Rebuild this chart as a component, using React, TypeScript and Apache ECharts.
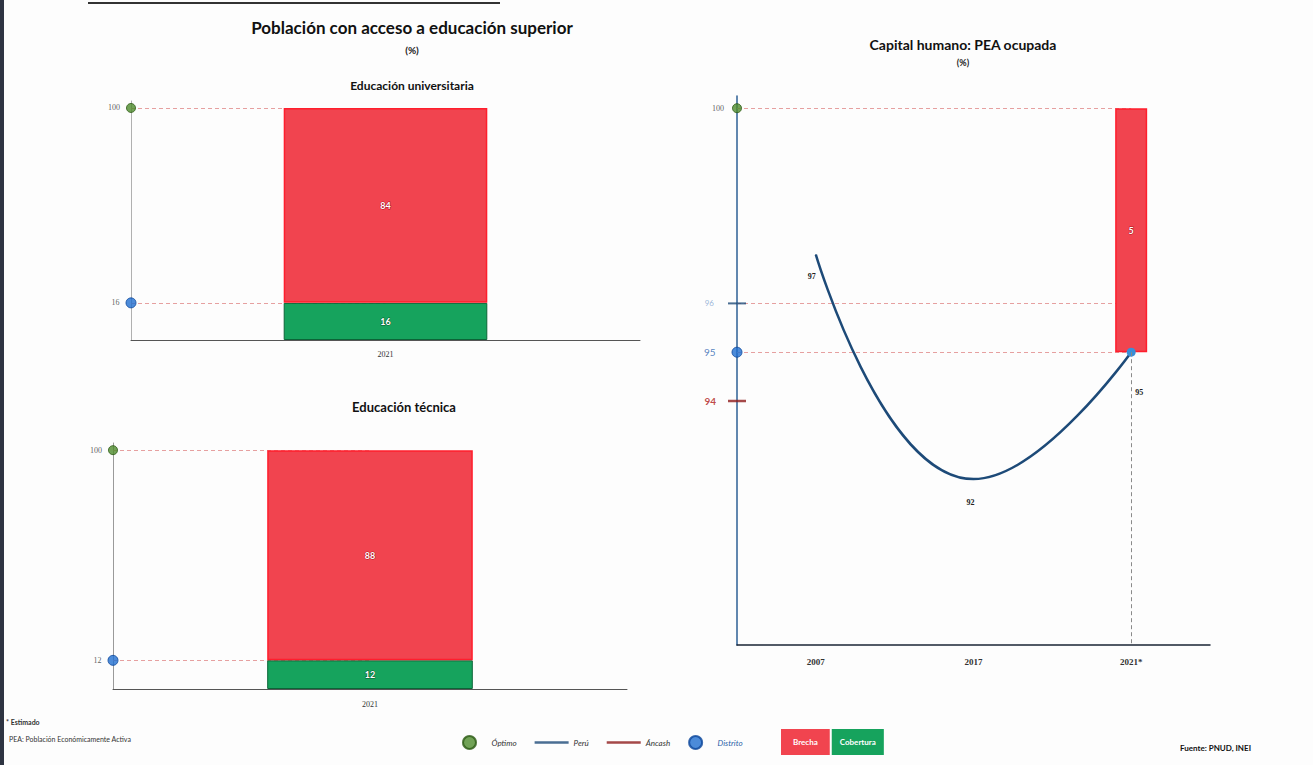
import React, { useEffect, useRef } from "react";
import * as echarts from "echarts";

// ---------- data ----------
const catUni = ["2021"];
const coberturaUni = [16];
const brechaUni = [84];

const catTec = ["2021"];
const coberturaTec = [12];
const brechaTec = [88];

const optimo = 100;
const distritoUni = 16;
const distritoTec = 12;

const catPea = ["2007", "2017", "2021*"];
const distritoPea = [97, 92.4, 95];
const brechaPea = [null, null, 5];
const peruPea = 96;
const ancashPea = 94;

// ---------- styles ----------
const RED = "#f1444f";
const RED_BORDER = "#ff1e2d";
const GREEN = "#16a35d";
const GREEN_BORDER = "#0b6537";
const OPT_GREEN = "#4d8b2c";
const OPT_BORDER = "#2c5a14";
const DIST_BLUE = "#1f6ed0";
const DIST_BORDER = "#0c469a";
const LINE_BLUE = "#1d4a78";
const ANCASH = "#8e1b1b";
const DASH = "#e6a0a0";
const SERIF = "Liberation Serif";
const SANS = "Lato";

const lastIdx = catPea.length - 1;
const basePea = catPea.map((_, i) => (brechaPea[i] == null ? null : distritoPea[i]));
const centerOf = (i: number, n: number) => (i + 0.5) / n;

function marker(
  name: string,
  xIdx: number,
  yIdx: number,
  value: number,
  color: string,
  border: string,
  symbol: string,
  size: any,
  labelColor: string,
  labelSize: number,
  labelDist: number,
  labelFont: string,
  lineEnd: number | null,
  fontWeight: string = "normal"
) {
  const s: any = {
    name,
    type: "scatter",
    xAxisIndex: xIdx,
    yAxisIndex: yIdx,
    symbol,
    symbolSize: size,
    clip: false,
    z: 6,
    itemStyle: { color, borderColor: border, borderWidth: symbol === "circle" ? 1 : 0 },
    label: {
      show: true,
      position: "left",
      distance: labelDist,
      color: labelColor,
      fontSize: labelSize,
      fontFamily: labelFont,
      fontWeight,
      formatter: (p: any) => String(p.value[1]),
    },
    data: [[0, value]],
  };
  if (lineEnd != null) {
    s.markLine = {
      silent: true,
      z: 1,
      symbol: ["none", "none"],
      label: { show: false },
      lineStyle: { color: DASH, type: [4, 3], width: 1 },
      data: [[{ coord: [0, value] }, { coord: [lineEnd, value] }]],
    };
  }
  return s;
}

const barLabel = (border: string) => ({
  show: true,
  position: "inside",
  color: "#fff",
  fontSize: 9,
  fontWeight: "bold",
  fontFamily: SANS,
  textBorderColor: border,
  textBorderWidth: 1,
});

export default function App() {
  const ref = useRef<HTMLDivElement>(null);

  useEffect(() => {
    if (!ref.current) return;
    const chart = echarts.init(ref.current, undefined, { renderer: "svg" });

    const catAxis = (grid: number, data: string[], margin: number, size: number, color: string, width: number, bold = false) => ({
      type: "category",
      gridIndex: grid,
      data,
      axisLine: { show: true, lineStyle: { color, width } },
      axisTick: { show: false },
      axisLabel: { margin, fontSize: size, color: "#333", fontFamily: SERIF, fontWeight: bold ? "bold" : "normal" },
      splitLine: { show: false },
    });
    const hiddenVal = (grid: number) => ({ type: "value", gridIndex: grid, min: 0, max: 1, show: false });
    const valAxis = (grid: number, min: number, max: number, color: string, width: number) => ({
      type: "value",
      gridIndex: grid,
      min,
      max,
      axisLine: { show: true, lineStyle: { color, width } },
      axisTick: { show: false },
      axisLabel: { show: false },
      splitLine: { show: false },
    });

    const lineOffsets = [
      [-4, 12],
      [-3, 14],
      [8, 27],
    ];

    const option: any = {
      animation: false,
      backgroundColor: "#fdfdfd",
      grid: [
        { left: 131, top: 101, width: 509, height: 239 },
        { left: 113, top: 443, width: 514, height: 246 },
        { left: 737, top: 96, width: 473, height: 549 },
      ],
      xAxis: [
        catAxis(0, catUni, 10, 8, "#555", 1),
        hiddenVal(0),
        catAxis(1, catTec, 11, 8, "#555", 1),
        hiddenVal(1),
        catAxis(2, catPea, 12, 9, "#1a2535", 1.5, true),
        hiddenVal(2),
      ],
      yAxis: [
        valAxis(0, 0, 103, "#b0b0b0", 1),
        valAxis(1, 0, 103, "#9a9a9a", 1),
        valAxis(2, 89, 100.25, "#2c5f94", 1.5),
      ],
      legend: [
        {
          left: 457,
          top: 730,
          itemWidth: 34,
          itemHeight: 13,
          itemGap: 18,
          selectedMode: false,
          textStyle: { fontSize: 8, fontStyle: "italic", color: "#333", fontFamily: SANS },
          data: [
            { name: "Óptimo", icon: "circle" },
            { name: "Perú", icon: "path://M0,0H34V2.5H0Z" },
            { name: "Áncash", icon: "path://M0,0H34V2.5H0Z" },
            { name: "Distrito", icon: "circle", textStyle: { color: "#2a5fa8" } },
          ],
        },
        {
          left: 770,
          top: 724,
          itemWidth: 0,
          itemHeight: 0,
          itemGap: -4,
          selectedMode: false,
          data: [
            {
              name: "Brecha",
              textStyle: { backgroundColor: RED, color: "#fff", fontWeight: "bold", fontSize: 8, padding: [9, 12], fontFamily: SANS },
            },
            {
              name: "Cobertura",
              textStyle: { backgroundColor: GREEN, color: "#fff", fontWeight: "bold", fontSize: 8, padding: [9, 8], fontFamily: SANS },
            },
          ],
        },
      ],
      graphic: [
        { type: "rect", shape: { x: 0, y: 0, width: 4, height: 765 }, style: { fill: "#2e3442" } },
        { type: "line", shape: { x1: 88, y1: 3, x2: 500, y2: 3 }, style: { stroke: "#333", lineWidth: 2 } },
        { type: "text", x: 412, y: 27, style: { text: "Población con acceso a educación superior", align: "center", verticalAlign: "middle", font: `bold 17px ${SANS}`, fill: "#111" } },
        { type: "text", x: 412, y: 50, style: { text: "(%)", align: "center", verticalAlign: "middle", font: `bold 10px ${SANS}`, fill: "#222" } },
        { type: "text", x: 412, y: 85, style: { text: "Educación universitaria", align: "center", verticalAlign: "middle", font: `bold 12px ${SANS}`, fill: "#111" } },
        { type: "text", x: 404, y: 407, style: { text: "Educación técnica", align: "center", verticalAlign: "middle", font: `bold 13px ${SANS}`, fill: "#111" } },
        { type: "text", x: 963, y: 44, style: { text: "Capital humano: PEA ocupada", align: "center", verticalAlign: "middle", font: `bold 14px ${SANS}`, fill: "#111" } },
        { type: "text", x: 963, y: 62, style: { text: "(%)", align: "center", verticalAlign: "middle", font: `bold 9px ${SANS}`, fill: "#222" } },
        { type: "text", x: 6, y: 722, style: { text: "* Estimado", verticalAlign: "middle", font: `bold 7px ${SANS}`, fill: "#333" } },
        { type: "text", x: 9, y: 739, style: { text: "PEA: Población Económicamente Activa", verticalAlign: "middle", font: `7px ${SANS}`, fill: "#333" } },
        { type: "text", x: 1180, y: 748, style: { text: "Fuente: PNUD, INEI", verticalAlign: "middle", font: `bold 8px ${SANS}`, fill: "#111" } },
      ],
      series: [
        marker("Óptimo", 1, 0, optimo, OPT_GREEN, OPT_BORDER, "circle", 9, "#333", 8, 6, SERIF, centerOf(0, catUni.length)),
        marker("Distrito", 1, 0, distritoUni, DIST_BLUE, DIST_BORDER, "circle", 10, "#333", 8, 6, SERIF, centerOf(0, catUni.length)),
        marker("Óptimo", 3, 1, optimo, OPT_GREEN, OPT_BORDER, "circle", 9, "#333", 8, 6, SERIF, centerOf(0, catTec.length)),
        marker("Distrito", 3, 1, distritoTec, DIST_BLUE, DIST_BORDER, "circle", 10, "#333", 8, 6, SERIF, centerOf(0, catTec.length)),
        marker("Óptimo", 5, 2, optimo, OPT_GREEN, OPT_BORDER, "circle", 9, "#333", 8, 8, SERIF, centerOf(lastIdx, catPea.length)),
        marker("Perú", 5, 2, peruPea, LINE_BLUE, LINE_BLUE, "rect", [18, 2], "#7fa3cf", 8, 14, SANS, centerOf(lastIdx, catPea.length)),
        marker("Distrito", 5, 2, distritoPea[lastIdx], DIST_BLUE, DIST_BORDER, "circle", 10, "#2a62b0", 10, 16, SANS, centerOf(lastIdx, catPea.length)),
        marker("Áncash", 5, 2, ancashPea, ANCASH, ANCASH, "rect", [18, 2.5], "#b01818", 10, 12, SANS, null, "bold"),

        // Educación universitaria
        {
          name: "Cobertura",
          type: "bar",
          xAxisIndex: 0,
          yAxisIndex: 0,
          stack: "uni",
          barWidth: "40%",
          z: 2,
          itemStyle: { color: GREEN, borderColor: GREEN_BORDER, borderWidth: 1 },
          label: barLabel("#0a5a30"),
          data: coberturaUni,
        },
        {
          name: "Brecha",
          type: "bar",
          xAxisIndex: 0,
          yAxisIndex: 0,
          stack: "uni",
          barWidth: "40%",
          z: 2,
          itemStyle: { color: RED, borderColor: RED_BORDER, borderWidth: 1.5 },
          label: barLabel("#b0101c"),
          data: brechaUni,
        },
        // Educación técnica
        {
          name: "Cobertura",
          type: "bar",
          xAxisIndex: 2,
          yAxisIndex: 1,
          stack: "tec",
          barWidth: "40%",
          z: 2,
          itemStyle: { color: GREEN, borderColor: GREEN_BORDER, borderWidth: 1 },
          label: barLabel("#0a5a30"),
          data: coberturaTec,
        },
        {
          name: "Brecha",
          type: "bar",
          xAxisIndex: 2,
          yAxisIndex: 1,
          stack: "tec",
          barWidth: "40%",
          z: 2,
          itemStyle: { color: RED, borderColor: RED_BORDER, borderWidth: 1.5 },
          label: barLabel("#b0101c"),
          data: brechaTec,
        },
        // PEA ocupada
        {
          name: "_base",
          type: "bar",
          xAxisIndex: 4,
          yAxisIndex: 2,
          stack: "pea",
          barWidth: 32,
          silent: true,
          itemStyle: { color: "rgba(0,0,0,0)" },
          data: basePea,
        },
        {
          name: "Brecha",
          type: "bar",
          xAxisIndex: 4,
          yAxisIndex: 2,
          stack: "pea",
          barWidth: 32,
          z: 2,
          itemStyle: { color: RED, borderColor: RED_BORDER, borderWidth: 1.5 },
          label: barLabel("#b0101c"),
          data: brechaPea,
        },
        {
          name: "Evolución distrital",
          type: "line",
          xAxisIndex: 4,
          yAxisIndex: 2,
          smooth: true,
          symbol: "circle",
          symbolSize: 1,
          showSymbol: true,
          z: 4,
          lineStyle: { color: LINE_BLUE, width: 2.5 },
          itemStyle: { color: LINE_BLUE },
          label: {
            show: true,
            position: "bottom",
            color: "#222",
            fontSize: 8,
            fontWeight: "bold",
            fontFamily: SERIF,
            formatter: (p: any) => String(Math.round(p.value)),
          },
          data: distritoPea.map((v, i) => {
            const item: any = { value: v, label: { show: true, position: "bottom", offset: lineOffsets[i] } };
            if (i === lastIdx) {
              item.symbolSize = 9;
              item.itemStyle = { color: "#3a8fd8" };
            }
            return item;
          }),
          markLine: {
            silent: true,
            symbol: ["none", "none"],
            label: { show: false },
            lineStyle: { color: "#8a8a8a", type: [4, 3], width: 1 },
            data: [[{ coord: [catPea[lastIdx], distritoPea[lastIdx]] }, { coord: [catPea[lastIdx], 89] }]],
          },
        },
      ],
    };

    chart.setOption(option);
    return () => chart.dispose();
  }, []);

  return <div ref={ref} style={{ position: "absolute", left: 0, top: 0, width: 1313, height: 765 }} />;
}
